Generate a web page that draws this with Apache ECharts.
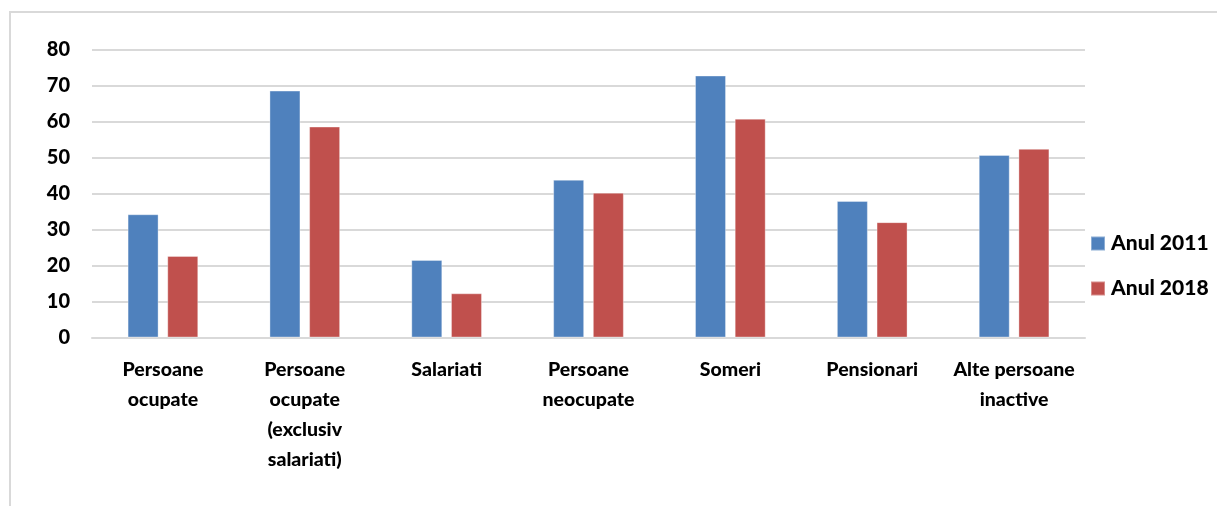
<!DOCTYPE html>
<html>
<head>
<meta charset="utf-8">
<script src="https://cdn.jsdelivr.net/npm/echarts@6/dist/echarts.min.js"></script>
<style>
html,body{margin:0;padding:0;background:#fff;}
#chart{width:1217px;height:506px;}
</style>
</head>
<body>
<div id="chart"></div>
<script>
var categories = [
  "Persoane\nocupate",
  "Persoane\nocupate\n(exclusiv\nsalariati)",
  "Salariati",
  "Persoane\nneocupate",
  "Someri",
  "Pensionari",
  "Alte persoane\ninactive"
];
var seriesNames = ["Anul 2011", "Anul 2018"];
var values2011 = [34.3, 68.7, 21.6, 43.9, 72.9, 38.0, 50.8];
var values2018 = [22.7, 58.7, 12.3, 40.3, 60.9, 32.1, 52.5];
var yTicks = {min: 0, max: 80, interval: 10};

var font = "Lato";
var weight = 900;
var chart = echarts.init(document.getElementById('chart'), null, {renderer: 'canvas'});
chart.setOption({
  animation: false,
  backgroundColor: '#ffffff',
  graphic: [{
    type: 'rect',
    shape: {x: 10, y: 12, width: 1300, height: 600},
    style: {fill: 'none', stroke: '#d9d9d9', lineWidth: 2},
    silent: true
  }],
  grid: {left: 92, right: 132, top: 50, bottom: 168.5, containLabel: false},
  legend: {
    orient: 'vertical',
    left: 1085,
    top: 228,
    itemWidth: 14,
    itemHeight: 14,
    itemGap: 24,
    icon: 'rect',
    textStyle: {fontFamily: font, fontWeight: weight, fontSize: 21, color: '#000', padding: [0, 0, 0, 1]},
    data: seriesNames
  },
  xAxis: {
    type: 'category',
    data: categories,
    axisLine: {show: true, lineStyle: {color: '#d9d9d9', width: 2}},
    axisTick: {show: false},
    axisLabel: {
      interval: 0,
      margin: 17,
      fontFamily: font, fontWeight: weight, fontSize: 19.5, color: '#000',
      lineHeight: 30
    }
  },
  yAxis: {
    type: 'value',
    min: yTicks.min, max: yTicks.max, interval: yTicks.interval,
    axisLine: {show: false},
    axisTick: {show: false},
    splitLine: {show: true, lineStyle: {color: '#d9d9d9', width: 2}},
    axisLabel: {margin: 22, fontFamily: font, fontWeight: weight, fontSize: 20, color: '#000'}
  },
  series: [
    {
      name: seriesNames[0], type: 'bar', data: values2011,
      barWidth: 31, barGap: '28%',
      itemStyle: {color: '#4f81bd', borderColor: 'rgba(255,255,255,0.35)', borderWidth: 1}
    },
    {
      name: seriesNames[1], type: 'bar', data: values2018,
      barWidth: 31,
      itemStyle: {color: '#c0504d', borderColor: 'rgba(255,255,255,0.35)', borderWidth: 1}
    }
  ]
});
</script>
</body>
</html>
